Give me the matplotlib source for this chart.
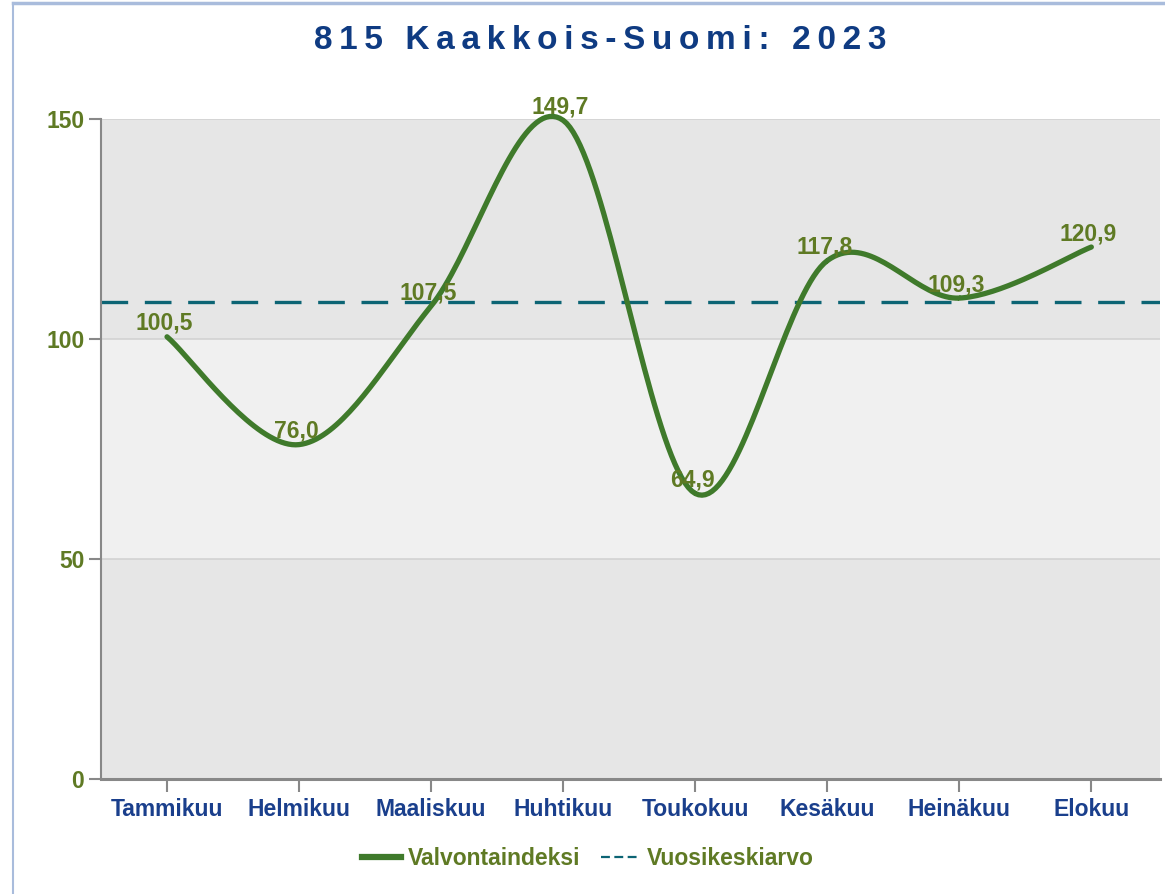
import numpy as np
import matplotlib
matplotlib.use("Agg")
import matplotlib.pyplot as plt
from matplotlib.lines import Line2D

plt.rcParams['font.family'] = ['Liberation Sans', 'DejaVu Sans']

months = ['Tammikuu', 'Helmikuu', 'Maaliskuu', 'Huhtikuu',
          'Toukokuu', 'Kesäkuu', 'Heinäkuu', 'Elokuu']
index_values = [100.5, 76.0, 107.5, 149.7, 64.9, 117.8, 109.3, 120.9]
year_mean = 108.4
y_ticks = [0, 50, 100, 150]
title = '815 Kaakkois-Suomi: 2023'

line_green = '#3f7a2b'
dash_teal = '#0c6474'
label_olive = '#5f7a24'
title_blue = '#0f3b82'
tick_blue = '#1a3f8c'


def catmull_rom(x, y, n=40):
    # smooth curve through the points (display only)
    x = np.asarray(x, float)
    y = np.asarray(y, float)
    px = np.concatenate([[x[0]], x, [x[-1]]])
    py = np.concatenate([[y[0]], y, [y[-1]]])
    xs, ys = [], []
    t = np.linspace(0, 1, n)
    for i in range(1, len(px) - 2):
        for p, out in ((px, xs), (py, ys)):
            p0, p1, p2, p3 = p[i - 1], p[i], p[i + 1], p[i + 2]
            out.extend(0.5 * ((2 * p1) + (-p0 + p2) * t
                              + (2 * p0 - 5 * p1 + 4 * p2 - p3) * t ** 2
                              + (-p0 + 3 * p1 - 3 * p2 + p3) * t ** 3))
    return np.array(xs), np.array(ys)


fig = plt.figure(figsize=(11.65, 8.94), dpi=100, facecolor='white')
ax = fig.add_axes([0.0867, 0.1286, 0.9090, 0.7383])

x = np.arange(len(months))

# background bands
for lo, hi, c in [(0, 50, '#e6e6e6'), (50, 100, '#f0f0f0'), (100, 150, '#e6e6e6')]:
    ax.axhspan(lo, hi, color=c, zorder=0, lw=0)
for yv in [50, 100, 150]:
    ax.axhline(yv, color='#d2d2d2', lw=1.2, zorder=1)

ax.axhline(year_mean, color=dash_teal, lw=2.4, ls=(0, (8, 5)), zorder=2)

sx, sy = catmull_rom(x, index_values)
ax.plot(sx, sy, color=line_green, lw=3.8, solid_capstyle='round', zorder=3,
        clip_on=False)

for xi, v in zip(x, index_values):
    ax.annotate(f'{v:.1f}'.replace('.', ','), (xi, v), xytext=(-2, 5),
                textcoords='offset points', ha='center', va='baseline',
                fontsize=16.5, fontweight='bold', color=label_olive, zorder=4,
                annotation_clip=False)

ax.set_xlim(-0.5, 7.52)
ax.set_ylim(0, 150)
ax.set_xticks(x)
ax.set_xticklabels(months, fontsize=16.5, fontweight='bold', color=tick_blue)
ax.set_yticks(y_ticks)
ax.set_yticklabels([str(t) for t in y_ticks], fontsize=16.5, fontweight='bold',
                   color=label_olive)
ax.tick_params(axis='both', direction='out', length=9, width=1.5, color='#888888')
ax.tick_params(axis='x', pad=5)
ax.tick_params(axis='y', pad=3)
for s in ['top', 'right']:
    ax.spines[s].set_visible(False)
ax.spines['left'].set_color('#888888')
ax.spines['left'].set_linewidth(1.5)
ax.spines['bottom'].set_color('#888888')
ax.spines['bottom'].set_linewidth(2.2)

spaced = '\u2009'.join(title)
fig.text(0.515, 0.955, spaced, ha='center', va='center', fontsize=24,
         fontweight='bold', color=title_blue)

handles = [Line2D([], [], color=line_green, lw=4.5),
           Line2D([], [], color=dash_teal, lw=1.6, ls=(0, (4, 2)))]
leg = fig.legend(handles, ['Valvontaindeksi', 'Vuosikeskiarvo'],
                 loc='center', bbox_to_anchor=(0.505, 0.040), ncol=2,
                 frameon=False, handlelength=1.7, handletextpad=0.3,
                 columnspacing=0.9, prop={'size': 16.5, 'weight': 'bold'})
for t in leg.get_texts():
    t.set_color(label_olive)

# outer frame
fig.add_artist(Line2D([0.011, 0.011], [0, 0.997], transform=fig.transFigure,
                      color='#a9bcdc', lw=1.5))
fig.add_artist(Line2D([0.011, 1.0], [0.997, 0.997], transform=fig.transFigure,
                      color='#a9bcdc', lw=2.5))

fig.savefig('out.png', dpi=100, facecolor='white')
